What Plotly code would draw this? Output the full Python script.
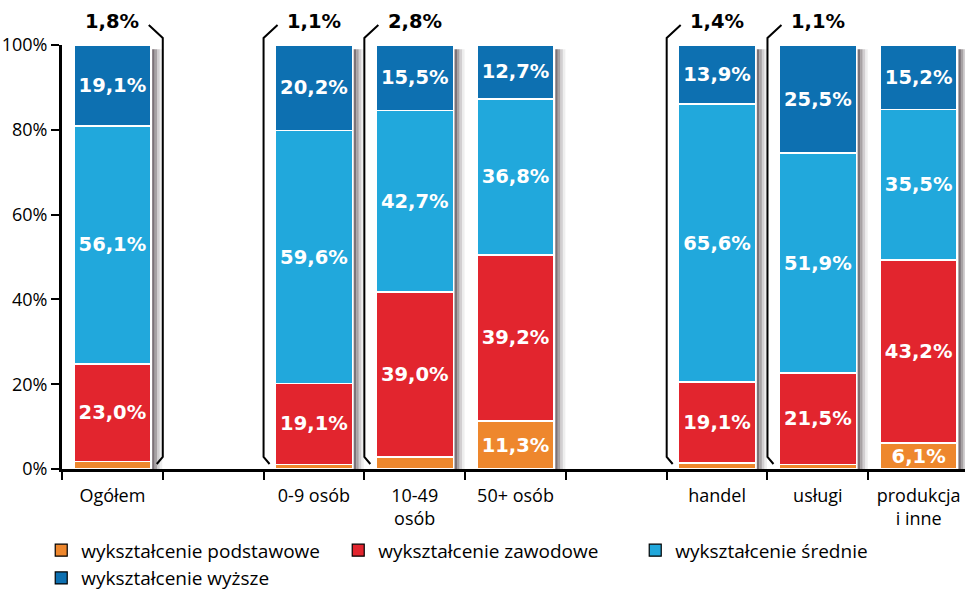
import plotly.graph_objects as go

categories = ["Ogółem", " ", "0-9 osób", "10-49<br>osób", "50+ osób", "  ", "handel", "usługi", "produkcja<br>i inne"]
podstawowe = [1.8, None, 1.1, 2.8, 11.3, None, 1.4, 1.1, 6.1]
zawodowe = [23.0, None, 19.1, 39.0, 39.2, None, 19.1, 21.5, 43.2]
srednie = [56.1, None, 59.6, 42.7, 36.8, None, 65.6, 51.9, 35.5]
wyzsze = [19.1, None, 20.2, 15.5, 12.7, None, 13.9, 25.5, 15.2]
series_names = ["wykształcenie podstawowe", "wykształcenie zawodowe", "wykształcenie średnie", "wykształcenie wyższe"]
colors = ["#EE872D", "#E2252E", "#21A8DC", "#0D70B1"]
y_ticks = [0, 20, 40, 60, 80, 100]
y_ticktext = ["0%", "20%", "40%", "60%", "80%", "100%"]
# segments too small for an inside label get an outside label with a bracket
bracket_side = {0: "right", 2: "left", 3: "left", 6: "left", 7: "left"}

def fmt(v):
    return f"{v:.1f}".replace(".", ",") + "%"

XR = [-0.5, 8.46]
BAR_W = 0.765
PLOT_W = 903.0

fig = go.Figure()
series = [podstawowe, zawodowe, srednie, wyzsze]
for name, vals, col in zip(series_names, series, colors):
    txt = []
    for v in vals:
        if v is None or v < 5:
            txt.append("")
        else:
            txt.append(fmt(v))
    fig.add_trace(go.Bar(
        x=categories, y=vals, name=name, showlegend=False,
        marker=dict(color=col, line=dict(color="white", width=1.5)),
        width=BAR_W, text=txt, textposition="inside", insidetextanchor="middle",
        textangle=0, constraintext="none",
        textfont=dict(family="DejaVu Sans", size=19.5, color="white", weight="bold"),
        hoverinfo="skip",
    ))
# legend entries
for name, col in zip(series_names, colors):
    fig.add_trace(go.Bar(x=[None], y=[None], name=name,
                         marker=dict(color=col, line=dict(color="black", width=1.2))))

shapes = []
annotations = []

def px2paper_x(pos):
    return (pos - XR[0]) / (XR[1] - XR[0])

# shadows
for i, v in enumerate(podstawowe):
    if v is None:
        continue
    x0 = i + BAR_W / 2 + 0.012
    steps = [(0.0, 0.025, "rgba(110,100,105,0.9)"), (0.025, 0.05, "rgba(130,122,126,0.7)"),
             (0.05, 0.075, "rgba(165,160,163,0.5)"), (0.075, 0.1, "rgba(200,198,200,0.3)")]
    for a, b, c in steps:
        shapes.append(dict(type="rect", xref="x", yref="y", x0=x0 + a, x1=x0 + b, y0=0, y1=99,
                           fillcolor=c, line=dict(width=0), layer="below"))

# top labels and brackets
h = 424.0
def py(p):
    return (469 - p) / h
for i, side in bracket_side.items():
    annotations.append(dict(x=categories[i], xref="x", y=py(22), yref="paper", text="<b>" + fmt(podstawowe[i]) + "</b>",
                            showarrow=False, font=dict(family="DejaVu Sans", size=19.5, color="black"),
                            xanchor="center", yanchor="middle"))
    d = 14 / PLOT_W
    e = 6 / PLOT_W
    if side == "right":
        bx = px2paper_x(i + 0.5)
        path = f"M {bx - d} {py(25)} L {bx} {py(38)} L {bx} {py(457)} L {bx - e} {py(464)}"
    else:
        bx = px2paper_x(i - 0.5)
        path = f"M {bx + d} {py(25)} L {bx} {py(38)} L {bx} {py(457)} L {bx + e} {py(464)}"
    shapes.append(dict(type="path", xref="paper", yref="paper", path=path,
                       line=dict(color="black", width=2)))

fig.update_layout(
    barmode="stack",
    width=965, height=592,
    margin=dict(l=62, r=0, t=45, b=123, autoexpand=False),
    plot_bgcolor="white", paper_bgcolor="white",
    shapes=shapes, annotations=annotations,
    uniformtext=dict(minsize=19.5, mode="show"),
    font=dict(family="Open Sans", size=18, color="black"),
    xaxis=dict(type="category", range=XR, tickson="boundaries", ticks="outside", ticklen=8,
               tickwidth=2, tickcolor="black", showline=True, linecolor="black", linewidth=3,
               showgrid=False, automargin=False, ticklabelstandoff=8,
               tickfont=dict(family="Open Sans", size=18)),
    yaxis=dict(range=[0, 100], tickvals=y_ticks, ticktext=y_ticktext, ticks="outside", ticklen=8,
               tickwidth=2, tickcolor="black", showline=True, linecolor="black", linewidth=3,
               showgrid=False, zeroline=False, automargin=False,
               tickfont=dict(family="Open Sans", size=18)),
    legend=dict(orientation="h", x=-0.023, y=-0.147, xanchor="left", yanchor="top",
                font=dict(family="Open Sans", size=19), entrywidth=252, entrywidthmode="pixels",
                traceorder="normal", itemwidth=30, tracegroupgap=0),
    bargap=0.2,
)

fig.write_html("out.html", config={"displayModeBar": False},
               post_script="document.body.style.margin='0';document.body.style.overflow='hidden';")
